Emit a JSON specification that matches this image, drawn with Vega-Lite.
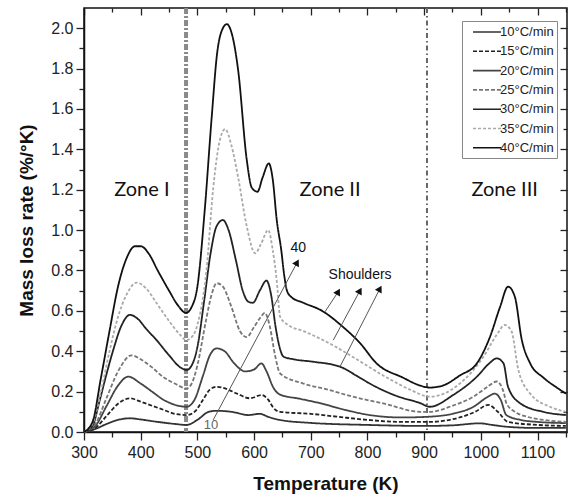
{
  "$schema": "https://vega.github.io/schema/vega-lite/v6.json",
  "width": 483,
  "height": 424,
  "autosize": {"type": "none"},
  "padding": {"left": 84, "top": 8, "right": 1, "bottom": 70},
  "background": "white",
  "config": {
    "view": {"stroke": "#111", "strokeWidth": 1.5},
    "axis": {
      "labelFont": "Liberation Sans", "labelFontSize": 16, "labelColor": "#222",
      "titleFont": "Liberation Sans", "titleFontSize": 19, "titleFontWeight": "bold", "titleColor": "#111",
      "tickColor": "#222", "tickWidth": 1.3, "domainColor": "#111", "domainWidth": 1.5, "grid": false
    }
  },
  "datasets": {
    "curves": [
      {"r":"10°C/min","t":300,"v":0},{"r":"10°C/min","t":320,"v":0.015},{"r":"10°C/min","t":340,"v":0.04},{"r":"10°C/min","t":360,"v":0.06},{"r":"10°C/min","t":381,"v":0.068},{"r":"10°C/min","t":400,"v":0.062},{"r":"10°C/min","t":430,"v":0.05},{"r":"10°C/min","t":460,"v":0.04},{"r":"10°C/min","t":481,"v":0.035},{"r":"10°C/min","t":500,"v":0.06},{"r":"10°C/min","t":520,"v":0.1},{"r":"10°C/min","t":534,"v":0.105},{"r":"10°C/min","t":560,"v":0.1},{"r":"10°C/min","t":590,"v":0.084},{"r":"10°C/min","t":610,"v":0.09},{"r":"10°C/min","t":625,"v":0.075},{"r":"10°C/min","t":645,"v":0.06},{"r":"10°C/min","t":700,"v":0.045},{"r":"10°C/min","t":800,"v":0.035},{"r":"10°C/min","t":900,"v":0.03},{"r":"10°C/min","t":950,"v":0.033},{"r":"10°C/min","t":998,"v":0.043},{"r":"10°C/min","t":1020,"v":0.035},{"r":"10°C/min","t":1050,"v":0.025},{"r":"10°C/min","t":1100,"v":0.02},{"r":"10°C/min","t":1150,"v":0.02},
      {"r":"15°C/min","t":300,"v":0},{"r":"15°C/min","t":320,"v":0.02},{"r":"15°C/min","t":340,"v":0.08},{"r":"15°C/min","t":360,"v":0.14},{"r":"15°C/min","t":381,"v":0.167},{"r":"15°C/min","t":400,"v":0.15},{"r":"15°C/min","t":420,"v":0.13},{"r":"15°C/min","t":440,"v":0.11},{"r":"15°C/min","t":460,"v":0.09},{"r":"15°C/min","t":481,"v":0.084},{"r":"15°C/min","t":495,"v":0.1},{"r":"15°C/min","t":510,"v":0.16},{"r":"15°C/min","t":522,"v":0.21},{"r":"15°C/min","t":534,"v":0.224},{"r":"15°C/min","t":550,"v":0.215},{"r":"15°C/min","t":570,"v":0.19},{"r":"15°C/min","t":593,"v":0.167},{"r":"15°C/min","t":613,"v":0.183},{"r":"15°C/min","t":625,"v":0.16},{"r":"15°C/min","t":634,"v":0.12},{"r":"15°C/min","t":646,"v":0.1},{"r":"15°C/min","t":700,"v":0.09},{"r":"15°C/min","t":746,"v":0.076},{"r":"15°C/min","t":800,"v":0.06},{"r":"15°C/min","t":860,"v":0.05},{"r":"15°C/min","t":910,"v":0.05},{"r":"15°C/min","t":960,"v":0.07},{"r":"15°C/min","t":990,"v":0.1},{"r":"15°C/min","t":1013,"v":0.134},{"r":"15°C/min","t":1030,"v":0.1},{"r":"15°C/min","t":1048,"v":0.05},{"r":"15°C/min","t":1100,"v":0.035},{"r":"15°C/min","t":1150,"v":0.03},
      {"r":"20°C/min","t":300,"v":0},{"r":"20°C/min","t":320,"v":0.03},{"r":"20°C/min","t":340,"v":0.13},{"r":"20°C/min","t":360,"v":0.23},{"r":"20°C/min","t":378,"v":0.274},{"r":"20°C/min","t":400,"v":0.24},{"r":"20°C/min","t":420,"v":0.2},{"r":"20°C/min","t":440,"v":0.16},{"r":"20°C/min","t":460,"v":0.135},{"r":"20°C/min","t":481,"v":0.125},{"r":"20°C/min","t":495,"v":0.16},{"r":"20°C/min","t":510,"v":0.28},{"r":"20°C/min","t":522,"v":0.38},{"r":"20°C/min","t":534,"v":0.414},{"r":"20°C/min","t":548,"v":0.4},{"r":"20°C/min","t":565,"v":0.34},{"r":"20°C/min","t":584,"v":0.3},{"r":"20°C/min","t":600,"v":0.31},{"r":"20°C/min","t":613,"v":0.34},{"r":"20°C/min","t":622,"v":0.3},{"r":"20°C/min","t":634,"v":0.22},{"r":"20°C/min","t":646,"v":0.185},{"r":"20°C/min","t":680,"v":0.165},{"r":"20°C/min","t":716,"v":0.143},{"r":"20°C/min","t":760,"v":0.11},{"r":"20°C/min","t":804,"v":0.084},{"r":"20°C/min","t":860,"v":0.072},{"r":"20°C/min","t":910,"v":0.076},{"r":"20°C/min","t":950,"v":0.09},{"r":"20°C/min","t":987,"v":0.125},{"r":"20°C/min","t":1010,"v":0.17},{"r":"20°C/min","t":1025,"v":0.19},{"r":"20°C/min","t":1035,"v":0.16},{"r":"20°C/min","t":1045,"v":0.084},{"r":"20°C/min","t":1070,"v":0.06},{"r":"20°C/min","t":1100,"v":0.05},{"r":"20°C/min","t":1150,"v":0.044},
      {"r":"25°C/min","t":300,"v":0},{"r":"25°C/min","t":320,"v":0.04},{"r":"25°C/min","t":340,"v":0.17},{"r":"25°C/min","t":360,"v":0.3},{"r":"25°C/min","t":384,"v":0.38},{"r":"25°C/min","t":400,"v":0.36},{"r":"25°C/min","t":420,"v":0.32},{"r":"25°C/min","t":439,"v":0.274},{"r":"25°C/min","t":460,"v":0.24},{"r":"25°C/min","t":481,"v":0.216},{"r":"25°C/min","t":490,"v":0.24},{"r":"25°C/min","t":500,"v":0.33},{"r":"25°C/min","t":515,"v":0.55},{"r":"25°C/min","t":525,"v":0.68},{"r":"25°C/min","t":534,"v":0.737},{"r":"25°C/min","t":545,"v":0.72},{"r":"25°C/min","t":560,"v":0.62},{"r":"25°C/min","t":575,"v":0.5},{"r":"25°C/min","t":587,"v":0.47},{"r":"25°C/min","t":600,"v":0.52},{"r":"25°C/min","t":612,"v":0.57},{"r":"25°C/min","t":619,"v":0.59},{"r":"25°C/min","t":628,"v":0.52},{"r":"25°C/min","t":637,"v":0.38},{"r":"25°C/min","t":646,"v":0.29},{"r":"25°C/min","t":687,"v":0.24},{"r":"25°C/min","t":730,"v":0.21},{"r":"25°C/min","t":774,"v":0.175},{"r":"25°C/min","t":830,"v":0.14},{"r":"25°C/min","t":893,"v":0.1},{"r":"25°C/min","t":910,"v":0.1},{"r":"25°C/min","t":950,"v":0.13},{"r":"25°C/min","t":987,"v":0.175},{"r":"25°C/min","t":1010,"v":0.22},{"r":"25°C/min","t":1028,"v":0.25},{"r":"25°C/min","t":1040,"v":0.2},{"r":"25°C/min","t":1045,"v":0.143},{"r":"25°C/min","t":1060,"v":0.1},{"r":"25°C/min","t":1081,"v":0.076},{"r":"25°C/min","t":1110,"v":0.06},{"r":"25°C/min","t":1150,"v":0.05},
      {"r":"30°C/min","t":300,"v":0},{"r":"30°C/min","t":315,"v":0.03},{"r":"30°C/min","t":328,"v":0.16},{"r":"30°C/min","t":340,"v":0.29},{"r":"30°C/min","t":352,"v":0.41},{"r":"30°C/min","t":365,"v":0.52},{"r":"30°C/min","t":381,"v":0.58},{"r":"30°C/min","t":395,"v":0.56},{"r":"30°C/min","t":410,"v":0.51},{"r":"30°C/min","t":428,"v":0.455},{"r":"30°C/min","t":450,"v":0.38},{"r":"30°C/min","t":470,"v":0.32},{"r":"30°C/min","t":481,"v":0.307},{"r":"30°C/min","t":490,"v":0.33},{"r":"30°C/min","t":500,"v":0.42},{"r":"30°C/min","t":512,"v":0.65},{"r":"30°C/min","t":523,"v":0.88},{"r":"30°C/min","t":534,"v":1.02},{"r":"30°C/min","t":545,"v":1.05},{"r":"30°C/min","t":555,"v":1.0},{"r":"30°C/min","t":568,"v":0.85},{"r":"30°C/min","t":580,"v":0.7},{"r":"30°C/min","t":590,"v":0.645},{"r":"30°C/min","t":598,"v":0.64},{"r":"30°C/min","t":610,"v":0.7},{"r":"30°C/min","t":622,"v":0.75},{"r":"30°C/min","t":630,"v":0.68},{"r":"30°C/min","t":638,"v":0.52},{"r":"30°C/min","t":645,"v":0.42},{"r":"30°C/min","t":652,"v":0.373},{"r":"30°C/min","t":670,"v":0.36},{"r":"30°C/min","t":704,"v":0.348},{"r":"30°C/min","t":752,"v":0.323},{"r":"30°C/min","t":780,"v":0.28},{"r":"30°C/min","t":804,"v":0.24},{"r":"30°C/min","t":850,"v":0.18},{"r":"30°C/min","t":893,"v":0.143},{"r":"30°C/min","t":910,"v":0.125},{"r":"30°C/min","t":951,"v":0.183},{"r":"30°C/min","t":993,"v":0.274},{"r":"30°C/min","t":1015,"v":0.34},{"r":"30°C/min","t":1028,"v":0.365},{"r":"30°C/min","t":1040,"v":0.34},{"r":"30°C/min","t":1048,"v":0.224},{"r":"30°C/min","t":1069,"v":0.143},{"r":"30°C/min","t":1110,"v":0.1},{"r":"30°C/min","t":1150,"v":0.084},
      {"r":"35°C/min","t":300,"v":0},{"r":"35°C/min","t":315,"v":0.04},{"r":"35°C/min","t":330,"v":0.2},{"r":"35°C/min","t":345,"v":0.4},{"r":"35°C/min","t":360,"v":0.57},{"r":"35°C/min","t":375,"v":0.68},{"r":"35°C/min","t":393,"v":0.74},{"r":"35°C/min","t":410,"v":0.71},{"r":"35°C/min","t":430,"v":0.63},{"r":"35°C/min","t":450,"v":0.55},{"r":"35°C/min","t":470,"v":0.48},{"r":"35°C/min","t":480,"v":0.455},{"r":"35°C/min","t":490,"v":0.47},{"r":"35°C/min","t":500,"v":0.53},{"r":"35°C/min","t":516,"v":0.8},{"r":"35°C/min","t":528,"v":1.21},{"r":"35°C/min","t":540,"v":1.45},{"r":"35°C/min","t":549,"v":1.5},{"r":"35°C/min","t":560,"v":1.42},{"r":"35°C/min","t":572,"v":1.26},{"r":"35°C/min","t":587,"v":1.02},{"r":"35°C/min","t":602,"v":0.885},{"r":"35°C/min","t":612,"v":0.93},{"r":"35°C/min","t":625,"v":1.0},{"r":"35°C/min","t":633,"v":0.9},{"r":"35°C/min","t":640,"v":0.75},{"r":"35°C/min","t":646,"v":0.57},{"r":"35°C/min","t":660,"v":0.53},{"r":"35°C/min","t":687,"v":0.5},{"r":"35°C/min","t":739,"v":0.43},{"r":"35°C/min","t":781,"v":0.36},{"r":"35°C/min","t":834,"v":0.27},{"r":"35°C/min","t":875,"v":0.21},{"r":"35°C/min","t":910,"v":0.175},{"r":"35°C/min","t":935,"v":0.19},{"r":"35°C/min","t":963,"v":0.24},{"r":"35°C/min","t":1004,"v":0.37},{"r":"35°C/min","t":1030,"v":0.49},{"r":"35°C/min","t":1042,"v":0.53},{"r":"35°C/min","t":1054,"v":0.5},{"r":"35°C/min","t":1066,"v":0.31},{"r":"35°C/min","t":1087,"v":0.19},{"r":"35°C/min","t":1122,"v":0.125},{"r":"35°C/min","t":1150,"v":0.1},
      {"r":"40°C/min","t":300,"v":0},{"r":"40°C/min","t":315,"v":0.05},{"r":"40°C/min","t":330,"v":0.27},{"r":"40°C/min","t":345,"v":0.5},{"r":"40°C/min","t":360,"v":0.72},{"r":"40°C/min","t":375,"v":0.86},{"r":"40°C/min","t":390,"v":0.92},{"r":"40°C/min","t":400,"v":0.92},{"r":"40°C/min","t":415,"v":0.88},{"r":"40°C/min","t":430,"v":0.8},{"r":"40°C/min","t":450,"v":0.7},{"r":"40°C/min","t":465,"v":0.63},{"r":"40°C/min","t":480,"v":0.59},{"r":"40°C/min","t":490,"v":0.62},{"r":"40°C/min","t":500,"v":0.72},{"r":"40°C/min","t":513,"v":1.1},{"r":"40°C/min","t":525,"v":1.55},{"r":"40°C/min","t":535,"v":1.88},{"r":"40°C/min","t":545,"v":2.0},{"r":"40°C/min","t":552,"v":2.02},{"r":"40°C/min","t":560,"v":1.98},{"r":"40°C/min","t":572,"v":1.79},{"r":"40°C/min","t":587,"v":1.35},{"r":"40°C/min","t":596,"v":1.21},{"r":"40°C/min","t":606,"v":1.19},{"r":"40°C/min","t":615,"v":1.26},{"r":"40°C/min","t":626,"v":1.33},{"r":"40°C/min","t":633,"v":1.25},{"r":"40°C/min","t":640,"v":1.05},{"r":"40°C/min","t":648,"v":0.9},{"r":"40°C/min","t":653,"v":0.78},{"r":"40°C/min","t":658,"v":0.7},{"r":"40°C/min","t":665,"v":0.67},{"r":"40°C/min","t":687,"v":0.64},{"r":"40°C/min","t":720,"v":0.6},{"r":"40°C/min","t":757,"v":0.52},{"r":"40°C/min","t":787,"v":0.44},{"r":"40°C/min","t":816,"v":0.34},{"r":"40°C/min","t":862,"v":0.27},{"r":"40°C/min","t":893,"v":0.23},{"r":"40°C/min","t":910,"v":0.22},{"r":"40°C/min","t":933,"v":0.23},{"r":"40°C/min","t":963,"v":0.28},{"r":"40°C/min","t":993,"v":0.34},{"r":"40°C/min","t":1016,"v":0.47},{"r":"40°C/min","t":1034,"v":0.62},{"r":"40°C/min","t":1048,"v":0.72},{"r":"40°C/min","t":1060,"v":0.67},{"r":"40°C/min","t":1072,"v":0.46},{"r":"40°C/min","t":1087,"v":0.34},{"r":"40°C/min","t":1110,"v":0.27},{"r":"40°C/min","t":1134,"v":0.22},{"r":"40°C/min","t":1150,"v":0.19}
    ],
    "arrows": [
      {"t": 528, "v": 0.06, "t2": 676, "v2": 0.84},
      {"t": 725, "v": 0.595, "t2": 748.5, "v2": 0.695},
      {"t": 739.7, "v": 0.455, "t2": 786.8, "v2": 0.70},
      {"t": 751.5, "v": 0.323, "t2": 822, "v2": 0.71}
    ]
  },
  "layer": [
    {
      "data": {"values": [{"t": 480}]},
      "mark": {"type": "rule", "color": "#8a8a8a", "strokeWidth": 4, "strokeDash": [6, 2, 2, 2]},
      "encoding": {"x": {"field": "t", "type": "quantitative", "axis": null}}
    },
    {
      "data": {"values": [{"t": 905}]},
      "mark": {"type": "rule", "color": "#666", "strokeWidth": 2, "strokeDash": [5, 3, 1.5, 3]},
      "encoding": {"x": {"field": "t", "type": "quantitative", "axis": null}}
    },
    {
      "data": {"name": "curves"},
      "mark": {"type": "line", "interpolate": "monotone", "strokeWidth": 1.8},
      "encoding": {
        "x": {"field": "t", "type": "quantitative", "scale": {"domain": [300, 1152], "nice": false, "zero": false},
              "title": "Temperature (K)",
              "axis": {"values": [300,350,400,450,500,550,600,650,700,750,800,850,900,950,1000,1050,1100,1150],
                       "labelExpr": "datum.value % 100 === 0 ? datum.label : ''", "format": "d",
                       "tickSize": {"condition": {"test": "datum.value % 100 === 0", "value": 8}, "value": 5},
                       "labelPadding": 4, "titlePadding": 14, "labelFlush": false}},
        "y": {"field": "v", "type": "quantitative", "scale": {"domain": [0, 2.1], "nice": false},
              "title": "Mass loss rate (%/°K)",
              "axis": {"values": [0,0.1,0.2,0.3,0.4,0.5,0.6,0.7,0.8,0.9,1.0,1.1,1.2,1.3,1.4,1.5,1.6,1.7,1.8,1.9,2.0],
                       "labelExpr": "round(datum.value*10) % 2 === 0 ? datum.label : ''", "format": ".1f",
                       "tickSize": {"condition": {"test": "round(datum.value*10) % 2 === 0", "value": 8}, "value": 5},
                       "labelPadding": 3, "titlePadding": 14, "labelFlush": false}},
        "color": {"field": "r", "type": "nominal",
                  "scale": {"domain": ["10°C/min","15°C/min","20°C/min","25°C/min","30°C/min","35°C/min","40°C/min"],
                            "range": ["#333","#222","#444","#777","#222","#aaa","#111"]},
                  "legend": {"title": null, "orient": "none", "legendX": 378, "legendY": 13,
                             "strokeColor": "#888", "fillColor": "white", "padding": 3,
                             "symbolType": "M-2,0H2", "symbolSize": 196, "symbolStrokeWidth": 1.6, "symbolOffset": 14,
                             "labelFont": "Liberation Sans", "labelFontSize": 13, "labelColor": "#222",
                             "rowPadding": 4.3, "labelOffset": 5}},
        "strokeDash": {"field": "r", "type": "nominal",
                       "scale": {"domain": ["10°C/min","15°C/min","20°C/min","25°C/min","30°C/min","35°C/min","40°C/min"],
                                 "range": [[1,0],[4,2],[1,0],[4,2],[1,0],[3,2],[1,0]]}},
        "strokeWidth": {"field": "r", "type": "nominal", "legend": null,
                        "scale": {"domain": ["10°C/min","15°C/min","20°C/min","25°C/min","30°C/min","35°C/min","40°C/min"],
                                  "range": [1.6,1.6,1.6,1.4,2,1.5,2.2]}}
      }
    },
    {
      "data": {"name": "arrows"},
      "mark": {"type": "rule", "color": "#555", "strokeWidth": 1},
      "encoding": {
        "x": {"field": "t", "type": "quantitative", "axis": null},
        "y": {"field": "v", "type": "quantitative", "axis": null},
        "x2": {"field": "t2"},
        "y2": {"field": "v2"}
      }
    },
    {
      "data": {"name": "arrows"},
      "mark": {"type": "point", "shape": "triangle-up", "filled": true, "color": "#111", "size": 60, "angle": 29, "opacity": 1},
      "encoding": {
        "x": {"field": "t2", "type": "quantitative",
              "axis": {"orient": "top", "labels": false, "title": null, "domain": false,
                       "values": [300,350,400,450,500,550,600,650,700,750,800,850,900,950,1000,1050,1100,1150],
                       "tickSize": {"condition": {"test": "datum.value % 100 === 0", "value": -7}, "value": -4}}},
        "y": {"field": "v2", "type": "quantitative",
              "axis": {"orient": "right", "labels": false, "title": null, "domain": false,
                       "values": [0,0.1,0.2,0.3,0.4,0.5,0.6,0.7,0.8,0.9,1.0,1.1,1.2,1.3,1.4,1.5,1.6,1.7,1.8,1.9,2.0],
                       "tickSize": {"condition": {"test": "round(datum.value*10) % 2 === 0", "value": -7}, "value": -4}}}
      }
    },
    {
      "data": {"values": [{"t": 402, "v": 1.2, "txt": "Zone I"}, {"t": 734, "v": 1.2, "txt": "Zone II"}, {"t": 1042, "v": 1.2, "txt": "Zone III"}]},
      "mark": {"type": "text", "font": "Lato", "fontSize": 20, "color": "#111", "align": "center", "baseline": "middle"},
      "encoding": {
        "x": {"field": "t", "type": "quantitative", "axis": null},
        "y": {"field": "v", "type": "quantitative", "axis": null},
        "text": {"field": "txt"}
      }
    },
    {
      "data": {"values": [{"t": 787, "v": 0.78, "txt": "Shoulders"}, {"t": 678, "v": 0.91, "txt": "40"}]},
      "mark": {"type": "text", "font": "Liberation Sans", "fontSize": 14, "color": "#111", "align": "center", "baseline": "middle"},
      "encoding": {
        "x": {"field": "t", "type": "quantitative", "axis": null},
        "y": {"field": "v", "type": "quantitative", "axis": null},
        "text": {"field": "txt"}
      }
    },
    {
      "data": {"values": [{"t": 524, "v": 0.035, "txt": "10"}]},
      "mark": {"type": "text", "font": "Liberation Sans", "fontSize": 13, "color": "#666", "align": "center", "baseline": "middle"},
      "encoding": {
        "x": {"field": "t", "type": "quantitative", "axis": null},
        "y": {"field": "v", "type": "quantitative", "axis": null},
        "text": {"field": "txt"}
      }
    }
  ],
  "resolve": {"axis": {"x": "independent", "y": "independent"}}
}
